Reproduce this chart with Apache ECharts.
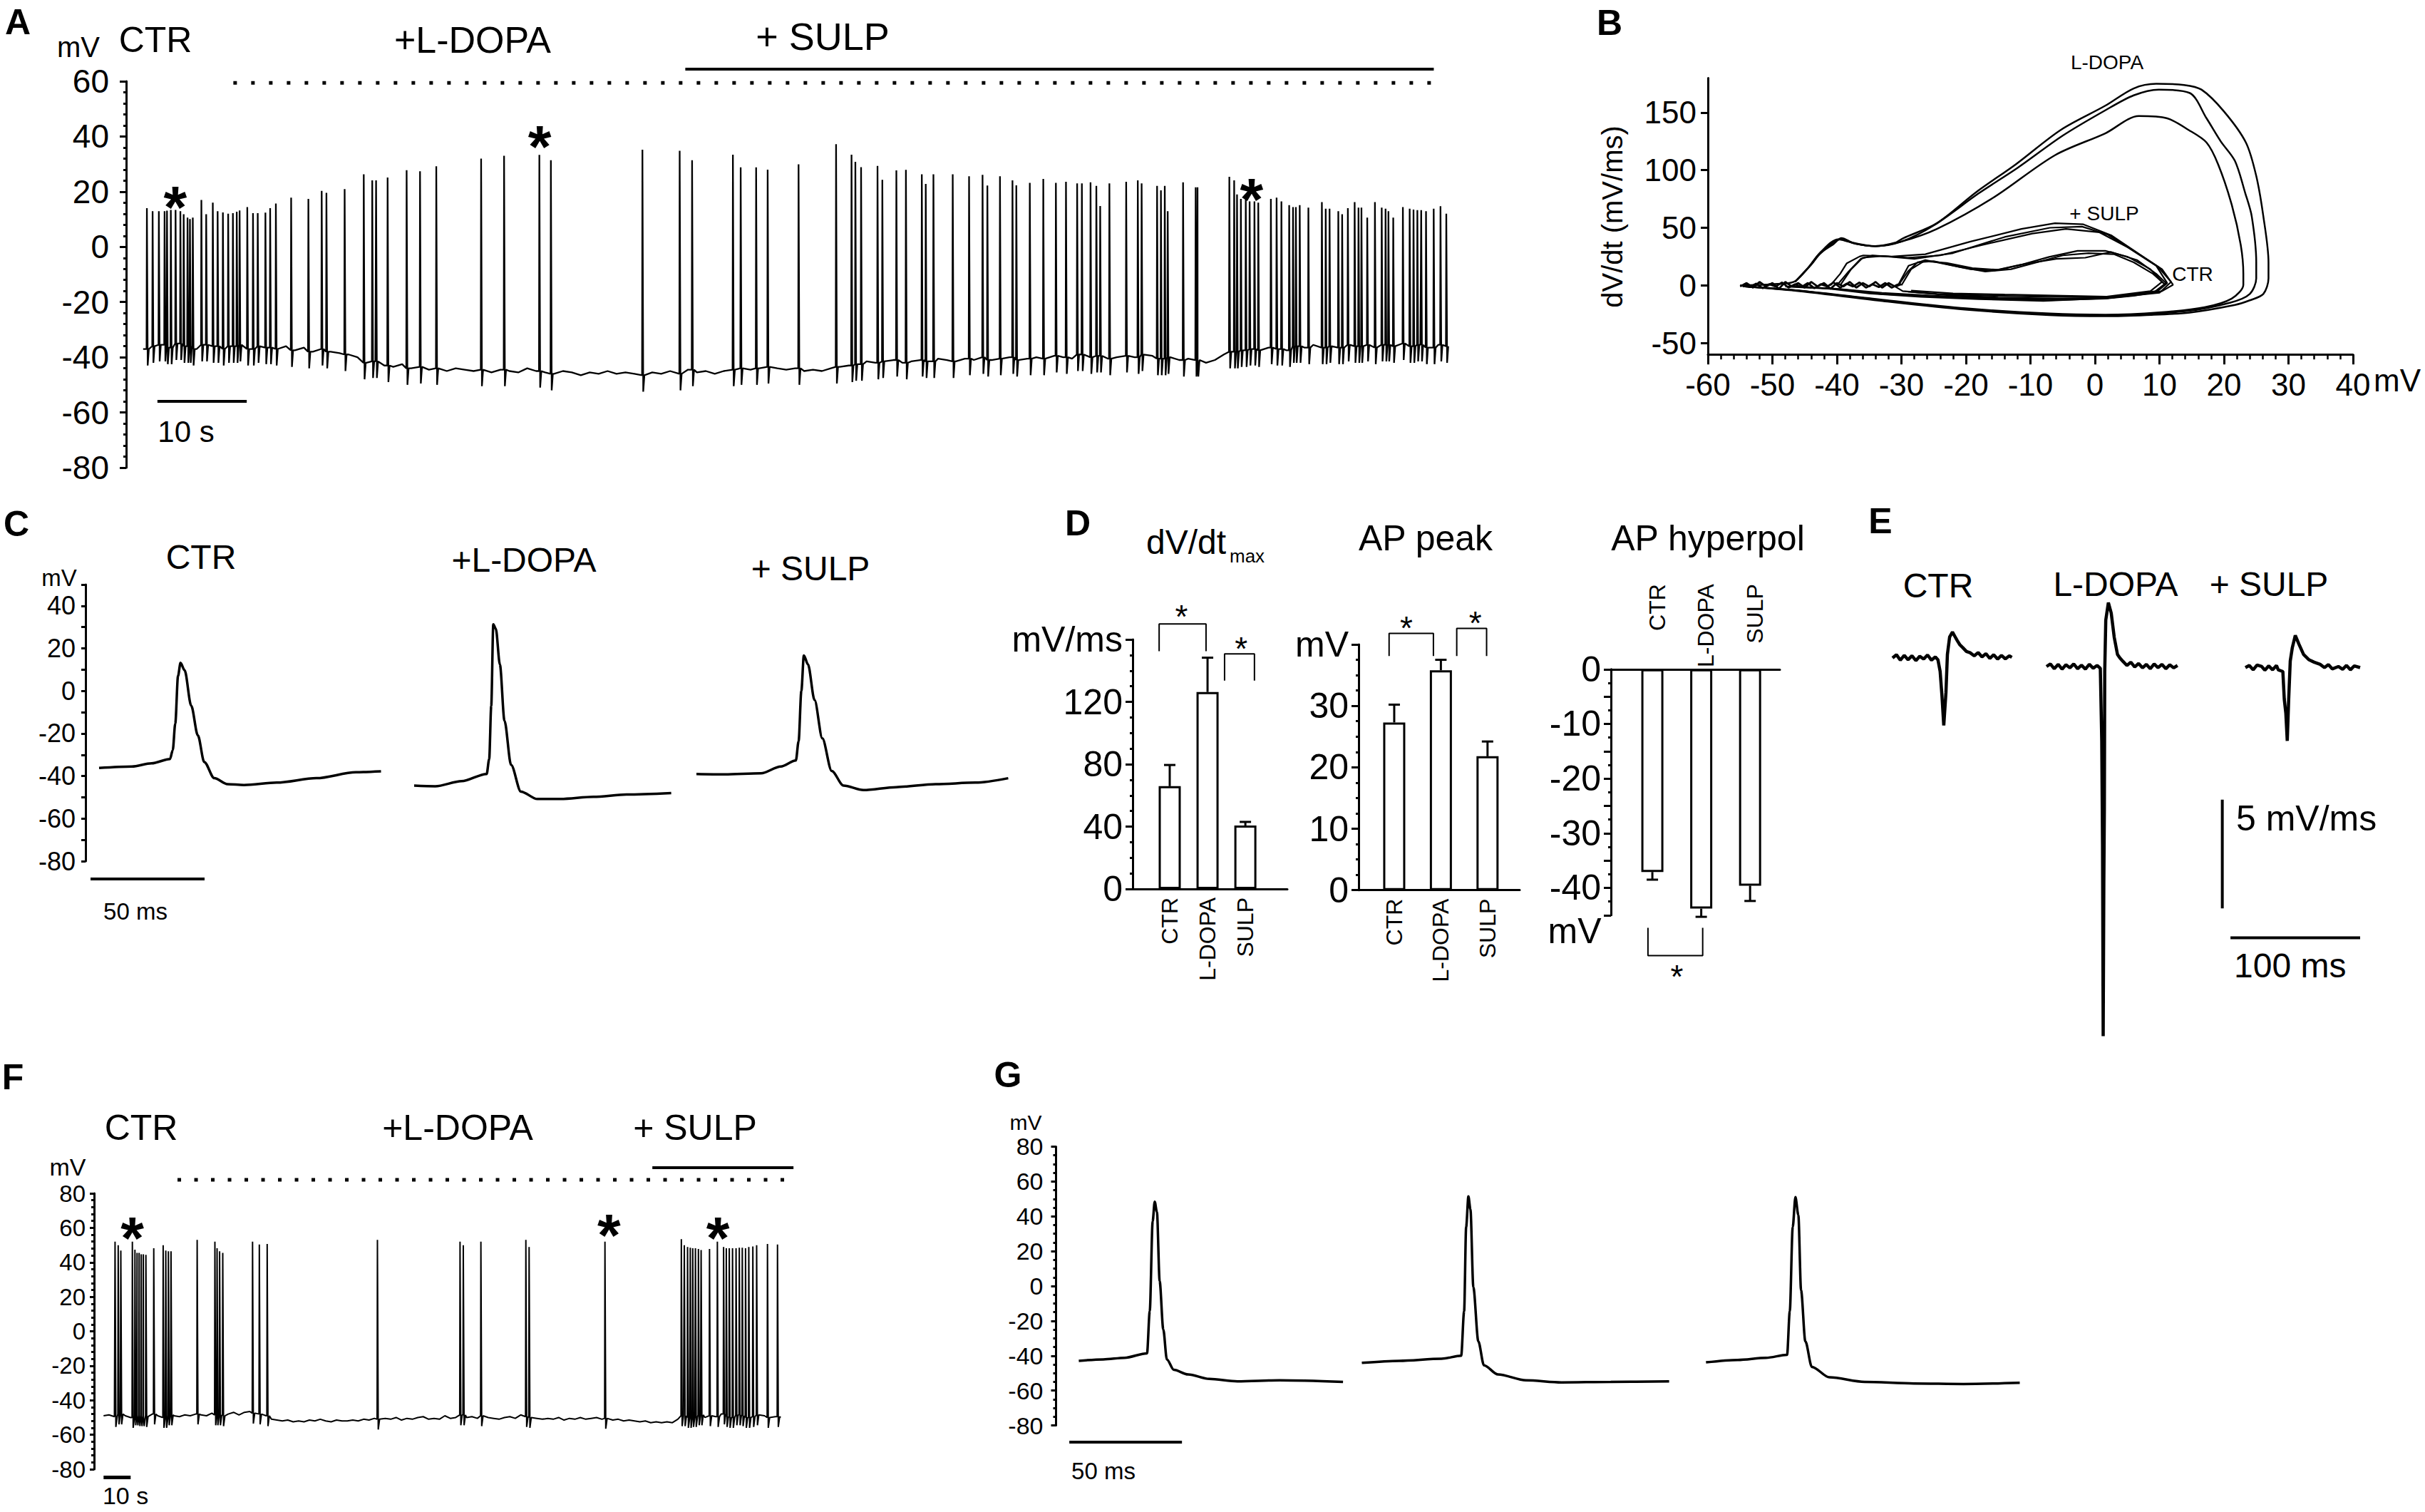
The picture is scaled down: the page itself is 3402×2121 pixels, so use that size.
<!DOCTYPE html>
<html>
<head>
<meta charset="utf-8">
<script src="https://cdn.jsdelivr.net/npm/echarts@6.0.0/dist/echarts.min.js"></script>
<style>
  html, body { margin: 0; padding: 0; background: #fff; }
  #chart { width: 3402px; height: 2121px; }
</style>
</head>
<body>
<div id="chart"></div>
<script>
var FONT = "'Liberation Sans', Arial, Helvetica, sans-serif"

// ---------- A : spontaneous firing (time in s, membrane potential in mV)
var aBaseStep = 1
var aBase = [
  -37, -36, -35.5, -36.5, -35, -36, -37, -35.5, -36, -37,
  -36, -35.5, -37, -36, -36.5, -37, -36, -37.5, -36.5, -38,
  -37, -38, -38.5, -39, -40, -42, -41.5, -43, -43.5, -42.5,
  -44, -43.5, -44.5, -44, -45, -44, -44.5, -45, -44.5, -45.5,
  -44.5, -45, -45.5, -44, -45, -45.5, -46, -45, -45.5, -46.5,
  -45.5, -46, -45, -46, -45.5, -46, -46.5, -45.5, -46, -45,
  -46, -44.5, -45.5, -45, -46, -45, -44.5, -44, -44.5, -44,
  -43.5, -44, -44.5, -44, -45, -44.5, -45, -44, -43.5, -43,
  -42.5, -41.5, -42, -41.5, -41, -42, -41.5, -41, -41.5, -40.5,
  -41, -41.5, -40.5, -41, -40, -41, -40.5, -40, -41, -40.5,
  -40, -40.5, -39.5, -40, -40.5, -39, -40, -39.5, -40.5, -40,
  -39.5, -40, -39, -39.5, -40.5, -40, -41, -40.5, -41, -42,
  -41, -39, -38, -37.5, -37, -37.5, -36.5, -37, -37.5, -36,
  -36.5, -35.5, -36.5, -36, -36.5, -35.5, -36, -35.5, -36.5, -35.5,
  -36, -35, -36, -35.5, -36.5, -35.5, -36
]
var aSpikeT = [
  0.42, 1.06, 1.76, 2.40, 2.67, 3.10, 3.63, 4.17, 4.54, 4.97, 5.24, 5.56, 6.52, 7.06, 7.80, 8.34,
  8.93, 9.52, 10.05, 10.48, 10.80, 11.66, 12.30, 12.83, 13.69, 14.22, 14.86, 16.57, 18.50, 19.99,
  20.52, 22.56, 24.70, 25.65, 26.08, 27.37, 29.50, 31.00, 32.82, 37.84, 40.41, 44.36, 45.65, 55.90,
  60.07, 61.46,
  66.03, 66.90, 68.63, 69.92, 73.38, 77.58, 79.31, 79.74, 80.38, 82.22, 82.76, 84.33, 85.40, 87.18,
  87.62, 88.48, 90.64, 92.47, 93.98, 94.52, 95.93, 97.33, 97.76, 99.27, 100.78, 102.19, 103.32,
  104.57, 105.10, 106.07, 106.72, 107.15, 108.18, 110.06, 111.36, 111.79, 113.52, 113.95, 114.38,
  114.71, 116.43, 117.84, 118.05,
  121.61, 122.15, 122.47, 122.90, 123.45, 123.88, 124.42, 124.85, 126.26, 126.90, 127.44, 128.31,
  128.74, 129.06, 129.49, 130.46, 131.97, 132.40, 132.83, 133.81, 134.24, 134.88, 135.64, 136.07,
  136.40, 137.05, 137.91, 138.67, 139.10, 139.42, 139.96, 141.04, 141.80, 142.23, 142.66, 143.09,
  143.63, 144.49, 145.25, 145.90
]
var aSpikeV = [
  14.0, 12.9, 12.9, 12.9, 13.1, 13.4, 13.4, 12.9, 11.8, 10.6, 10.1, 10.6, 17.0, 11.8, 16.0, 12.9,
  12.5, 12.0, 12.2, 12.7, 13.2, 14.4, 12.2, 12.2, 12.4, 14.0, 15.7, 17.8, 17.4, 20.3,
  19.6, 20.9, 26.3, 24.1, 24.1, 25.1, 27.8, 27.4, 29.2, 32.0, 33.0, 33.3, 31.4, 35.2,
  34.8, 31.4,
  33.4, 28.8, 28.8, 28.0, 29.9, 37.2, 33.4, 30.8, 28.9, 29.3, 24.3, 27.7, 27.9, 26.3,
  22.8, 26.3, 26.3, 25.6, 26.1, 22.2, 25.6, 24.1, 22.3, 23.2, 24.6, 23.2, 23.6,
  23.0, 23.0, 23.4, 22.1, 14.8, 23.0, 23.6, 24.1, 23.0, 22.1, 20.5, 22.1,
  12.9, 23.4, 21.6, 21.6,
  25.4, 24.1, 19.0, 17.4, 18.0, 16.5, 16.5, 16.0, 17.4, 17.8, 16.5, 15.1,
  14.4, 14.4, 15.1, 14.2, 16.2, 13.8, 13.8, 12.9, 11.8, 14.0, 16.2, 14.2,
  14.2, 10.6, 16.2, 14.2, 13.8, 12.9, 10.6, 14.4, 13.8, 13.5, 13.3, 13.3,
  12.9, 13.8, 14.7, 12.0
]
var aAhp = 6
var aStars = [[3.6, 19.0], [44.4, 40.9], [124.1, 21.8]]
var aDopaPeriod = [10.1, 144.2]
var aSulpPeriod = [60.7, 144.5]

// ---------- B : phase plots, dV/dt (mV/ms) against V (mV)
var bBase1 = [[-55, -1], [-54, 2], [-53, -2], [-52, 3], [-51, -1], [-50, 2], [-49, -3], [-48, 3], [-47, -1],
  [-46, 2], [-45, -2], [-44, 3], [-43, -1], [-42, 2], [-41, -3], [-40, 2], [-39, -1], [-38, 3], [-37, -2],
  [-36, 2], [-35, -1], [-34, 3], [-33, -2], [-32, 2], [-31, -1], [-30, 1]]
var bBase2 = [[-54.5, 1], [-53.5, -1.5], [-52.5, 1.5], [-51.5, -2.5], [-50.5, 1], [-49.5, -1], [-48.5, 2.5],
  [-47.5, -2], [-46.5, 1], [-45.5, -1.5], [-44.5, 2], [-43.5, -2.5], [-42.5, 1], [-41.5, -1], [-40.5, 2.5],
  [-39.5, -2], [-38.5, 1.5], [-37.5, -1], [-36.5, 2.5], [-35.5, -2], [-34.5, 1], [-33.5, -1.5], [-32.5, 2],
  [-31.5, -2], [-30.5, 1]]
var bLdopa1 = [[-55, 0], [-50, 1], [-46.7, 3], [-44.5, 15], [-42.8, 27], [-40.5, 36], [-39.3, 41], [-37.5, 37],
  [-34.1, 34], [-31, 37], [-29.7, 41], [-24.5, 54], [-18.4, 81], [-12.3, 105], [-5.3, 135], [1.6, 156], [6, 171],
  [9.5, 175], [13.8, 174], [16.5, 170], [20, 151], [23.4, 124], [25, 95], [26.1, 60], [26.9, 20], [26.9, 6],
  [26.1, -7.5], [24, -13], [21.7, -17], [14.7, -23.6], [8, -25.8], [1.6, -26.8], [-7.1, -25.8], [-20.2, -21],
  [-33.2, -13.4], [-46.3, -4.8], [-54.6, -0.8]]
var bLdopa2 = [[-46.5, 3], [-44, 18], [-42.5, 28], [-39.5, 40], [-37, 36], [-34, 34], [-30, 38], [-25, 52],
  [-18, 80], [-12, 102], [-5, 130], [1.6, 152], [6, 165], [9.9, 170], [14.7, 167], [17.3, 145], [19.5, 125],
  [21.7, 108], [23.3, 80], [24.3, 60], [25, 20], [25, 6], [24, -7.5], [21, -15], [14, -22.5], [1.6, -26],
  [-7, -25], [-20, -20.5], [-33, -13], [-46, -4.5], [-54.6, -0.8]]
var bLdopa3 = [[-46.5, 3], [-44, 18], [-42.5, 29], [-39.8, 40], [-37, 36], [-34, 34], [-30, 38], [-24.5, 49],
  [-15.8, 76], [-6.2, 113], [1.6, 132], [6.8, 147], [11.2, 145], [14.5, 135], [17.3, 124], [19.1, 105],
  [21.2, 70], [22.6, 35], [23, 10], [23, 0.5], [21.2, -11.5], [17, -19], [10, -23.5], [1.6, -25.5], [-7, -24.5],
  [-20, -20], [-33, -12.5], [-46, -4.5], [-54.6, -0.8]]
var bSulp1 = [[-41, 0], [-39.5, 10], [-38.5, 19], [-36.5, 25], [-35.9, 26], [-31.5, 25], [-26.3, 27], [-19.3, 38],
  [-11.4, 49], [-6.2, 54], [-1.8, 53], [2.5, 43.5], [6.9, 27], [10.4, 14], [12.1, 0.5], [10.4, -5], [6, -9],
  [1.6, -11.5], [-7.1, -13], [-15.8, -11.5], [-24.5, -10], [-33.2, -7.5], [-39.3, -3.5], [-46.3, -0.8]]
var bSulp2 = [[-40, 0], [-38.2, 12], [-36.3, 23], [-34.5, 26], [-29, 24], [-24, 26], [-17.5, 35], [-9.7, 45],
  [-4.5, 49], [0.7, 46], [5.1, 33], [9.5, 17], [11.2, 2], [9.5, -6], [2, -10.5], [-7, -12], [-16, -11],
  [-25, -9], [-33, -6.5], [-40, -3], [-47, -1]]
var bSulp3 = [[-39.5, 0], [-37.8, 14], [-36, 24], [-33, 25.5], [-28, 23], [-22, 28], [-14, 42], [-7, 50],
  [-2, 51], [2, 44], [6, 30], [9.8, 16], [11.8, 3], [10, -6.5], [2, -11], [-8, -13.5], [-18, -12], [-27, -10],
  [-35, -7], [-41, -3], [-48, -1]]
var bCtr1 = [[-31, 0], [-30.6, -0.8], [-28.9, 17], [-26.3, 22], [-22.8, 18], [-19.3, 14], [-15.8, 12.6],
  [-11.4, 18], [-7.1, 24.7], [-2.7, 30], [1.6, 30], [5.1, 24.7], [8.6, 14], [10.4, 3], [8.6, -5], [1.6, -10],
  [-7.1, -10], [-15.8, -9], [-24.5, -7.5], [-29.8, -5], [-31, -1]]
var bCtr2 = [[-30.5, 0], [-29, 12], [-27.5, 20], [-25, 21], [-21, 16], [-17, 12], [-13, 14], [-9, 20], [-5, 26],
  [-1, 28], [3, 27], [6, 20], [9, 10], [10.8, 1], [9, -6.5], [2, -11], [-6, -11.5], [-15, -10.5], [-23, -8.5],
  [-29, -5.5]]
var bCtr3 = [[-30, 0], [-28.5, 14], [-26.5, 21], [-23, 19.5], [-19, 15], [-15, 13.5], [-10.5, 19], [-6, 23],
  [-1.5, 24], [2.5, 29], [6.5, 22], [9.5, 10], [11, 2], [9.5, -5], [3, -10], [-5, -9], [-14, -8], [-22, -7],
  [-28.5, -4.5]]

// ---------- C : single action potentials (time in ms, mV)
var cCtr = [[0, -36.2], [14.4, -35.5], [23, -34], [31.1, -32], [32.3, -27.8], [33.4, -15.3], [34.6, 7], [35.7, 13.2],
  [37.5, 9.7], [40.4, -7], [43.3, -20.9], [46.1, -33.4], [50.5, -41], [56.3, -43.8], [63.5, -44.2], [77.9, -43.1],
  [95.3, -41], [112.6, -38.2], [123.6, -37.8]]
var cLdopa = [[0, -44.5], [9.25, -44.8], [20.8, -42.4], [31.8, -39], [32.9, -32], [33.8, -7], [34.7, 31.3],
  [35.8, 29.2], [37.6, 12.4], [39.6, -14], [42.5, -34.8], [46.8, -47.3], [54, -50.8], [64.2, -50.8],
  [78.6, -49.8], [93.1, -48.7], [112.7, -48]]
var cSulp = [[0, -39], [12.4, -39.2], [28.3, -38.7], [37, -35.5], [43.6, -32.7], [44.8, -23.6], [46, 0], [47.1, 16.7],
  [48.9, 12.5], [51.8, -4.3], [55.2, -22.3], [59.3, -37.6], [64.5, -44.5], [73.2, -46.6], [87.6, -45.2],
  [104.9, -43.8], [122.3, -43.1], [136.7, -41]]

// ---------- D : group means and SEM
var dCats = ['CTR', 'L-DOPA', 'SULP']
var dDvdtMean = [65.9, 126.3, 40.7]
var dDvdtSem = [13.6, 22, 2.3]
var dPeakMean = [27.3, 35.8, 21.8]
var dPeakSem = [2.9, 1.7, 2.4]
var dHypMean = [-37.1, -43.8, -39.6]
var dHypSem = [1.4, 1.5, 2.8]

// ---------- E : dV/dt traces (time in ms, mV/ms)
var eCtr = [[0, 0], [3, 0.15], [6, -0.1], [9, 0.12], [12, -0.08], [15, 0.1], [18, -0.12], [21, 0.08], [24, -0.05],
  [27, 0.14], [30, -0.1], [33, 0.05], [35, -0.08], [36.7, -0.62], [38.1, -1.73], [39.5, -3.1], [41.2, -1.58],
  [42.3, 0.16], [44, 0.96], [46.2, 1.19], [48, 1.0], [49.9, 0.8], [52, 0.6], [54.1, 0.48], [57, 0.3],
  [59.8, 0.24], [63, 0.1], [66, 0.25], [69, 0.05], [72, 0.2], [75, -0.02], [78, 0.15], [81, -0.05], [84, 0.12],
  [87, -0.04], [90, 0.1], [92, 0.03]]
var eLdopa = [[0, 0], [3, 0.12], [6, -0.1], [9, 0.1], [12, -0.12], [15, 0.08], [18, -0.06], [21, 0.12], [24, -0.1],
  [27, 0.06], [30, -0.12], [33, 0.1], [36, -0.08], [39, 0.05], [41.5, -0.08], [42.6, -3.42], [43.2, -8.19],
  [43.7, -17.0], [44.2, -10], [44.6, -6.6], [44.9, -0.24], [45.7, 2.14], [47.7, 2.94], [49.9, 2.46], [52.2, 1.35],
  [54.7, 0.56], [56.5, 0.4], [58.9, 0.24], [62, 0.05], [65, 0.2], [68, -0.02], [71, 0.14], [74, -0.06], [77, 0.1],
  [80, -0.1], [83, 0.12], [86, -0.05], [89, 0.1], [92, -0.1], [95, 0.08], [98, -0.06], [101, 0.05]]
var eSulp = [[0, 0], [3, 0.1], [6, -0.1], [9, 0.12], [12.6, 0.05], [15, -0.12], [18, 0.08], [21, -0.1], [24, 0.1],
  [25.3, -0.1], [28.9, -0.18], [30, -1.46], [31.2, -2.1], [32.3, -3.37], [33.4, -1.46], [34.6, 0.3], [36.2, 0.92],
  [38.5, 1.48], [41.3, 1.08], [44.9, 0.6], [49.1, 0.36], [53, 0.25], [57.6, 0.15], [61, 0.0], [64, 0.14],
  [67, -0.06], [71.7, 0.05], [75, -0.08], [78, 0.1], [81, -0.1], [84, 0.08], [88.5, 0]]

// ---------- F : second neuron, long recording (time in s, mV)
var fBaseStep = 2
var fBase = [
  -49, -48.5, -49.5, -48, -49, -50, -48.5, -49, -49.5, -48, -49, -50, -48.5,
  -49, -49.5, -48.5, -49, -48, -48.5, -49, -47.5, -48.5, -49, -48, -47, -48.5, -47, -46.5, -47.5, -48, -49,
  -51, -51.5, -52, -51.5, -52.5, -52, -52.5, -51.5, -52, -51, -52, -52.5, -51.5, -52, -52, -51.5, -52, -51, -51.5, -50.5,
  -51, -50.5, -51, -50, -51.5, -50.5, -51, -50, -49.5, -51, -50.5, -51, -49, -50.5, -50,
  -48.5, -50, -49.5, -50.5, -49, -50, -50.5, -51, -50, -49.5, -50.5, -48.5, -49.5, -50, -50.5,
  -51, -50.5, -51, -50, -51.5, -50.5, -51, -50, -51, -50.5, -50, -51, -50.5, -51.5, -51, -52, -51.5, -52, -52.5, -52,
  -53, -52.5, -53, -52.5, -53, -51,
  -49, -50, -49.5, -48.5, -50, -49, -49.5, -48, -49.5, -50, -48.5, -49, -50, -49.5, -48.5, -49, -50, -49.5, -50
]
var fSpikeT = [
  4.24, 5.4, 6.37, 10.63, 11.58, 12.37, 13.13, 13.9, 14.68, 15.63, 18.53, 22, 22.97, 23.94, 24.9, 34.55,
  41.1, 41.9, 42.84, 44, 55, 57.5, 60.4, 101.1, 131.6, 132.8, 139.3, 155.9, 157.1, 185.1, 213.3, 214.4,
  215.6, 216.6, 217.5, 218.5, 219.6, 220.6, 223.7, 226.6, 228.9, 229.9, 231, 232.2, 233.5, 234.7, 235.8,
  237, 238.2, 239.7, 241.1, 245.1, 248.8
]
var fSpikeV = [
  52, 49.9, 46.8, 52, 47.3, 45.5, 45.5, 44.7, 44.7, 44.3, 48.2, 49.9, 46.8, 46.4, 46.4, 53,
  52, 48.2, 46.4, 45.5, 52, 50.3, 50.6, 53, 52, 49.9, 52, 53, 48.9, 52, 53.4, 49.9,
  48.9, 48.5, 48.2, 48.2, 47.8, 47.1, 47.8, 52, 48.9, 48.2, 48.2, 48.2, 48.2, 48.5, 48.5,
  48.2, 48.9, 49.2, 49.9, 50.6, 50.3
]
var fAhp = 6
var fStars = [[10.6, 61.2], [186.6, 63], [226.8, 61.2]]
var fDopaPeriod = [27.3, 251.3]
var fSulpPeriod = [202.6, 254.7]

// ---------- G : single action potentials of the second neuron (ms, mV)
var gCtr = [[0.1, -42.9], [11, -42.1], [20.4, -41.2], [30.4, -38.6], [31.6, -14.5], [32.9, 37.2], [33.8, 48.4],
  [34.8, 42.4], [36, 2.8], [37.6, -24.8], [39.2, -42.1], [42.3, -48.1], [48.6, -50.7], [58, -53.3], [70.5, -54.7],
  [89.2, -54.1], [117.4, -55]]
var gLdopa = [[0, -44.1], [16.6, -42.9], [35.4, -41.7], [44.1, -40], [45.4, -14.5], [46.3, 33.8], [47.3, 51.4],
  [48.2, 44.1], [49.5, -0.7], [51.7, -31.7], [54.2, -45.5], [60.4, -50.7], [72.9, -54.1], [88.6, -55.3],
  [110.5, -55], [136.4, -54.7]]
var gSulp = [[0.1, -43.8], [14.2, -42.4], [26.7, -41.2], [36.1, -39.5], [37.3, -14.5], [38.6, 33.8], [39.8, 51],
  [41.1, 40.7], [42.3, -2.4], [44.2, -31.7], [47.1, -46.4], [54.9, -52.4], [70.5, -55], [92.4, -55.9],
  [114.4, -56.2], [139.4, -55.5]]

// baseline samples + spikes -> one sweep (w = [pre, trough, recover] offsets)
function buildTrace (step, base, spT, spV, ahp, w) {
  var pts = []
  base.forEach(function (v, i) {
    var t = i * step
    var near = spT.some(function (s) { return t > s - 2 * w[0] && t < s + w[2] + w[0] })
    if (!near) pts.push([t, v])
  })
  spT.forEach(function (s, k) {
    var b = base[Math.min(base.length - 1, Math.round(s / step))]
    pts.push([s - w[0], b], [s, spV[k]], [s + w[1], b - ahp], [s + w[2], b])
  })
  pts.sort(function (p, q) { return p[0] - q[0] })
  return pts
}

var BLACK = '#000'

function line (gi, data, width, extra) {
  return Object.assign({
    type: 'line', xAxisIndex: gi, yAxisIndex: gi, data: data, symbol: 'none', silent: true,
    lineStyle: { color: BLACK, width: width }, animation: false
  }, extra || {})
}

function hidX (gi, min, max) {
  return { type: 'value', gridIndex: gi, min: min, max: max, show: false }
}

function hidY (gi, min, max) {
  return { type: 'value', gridIndex: gi, min: min, max: max, show: false }
}

function visY (gi, min, max, interval, fs, margin, tickLen, minor, extra) {
  return Object.assign({
    type: 'value', gridIndex: gi, min: min, max: max, interval: interval,
    splitLine: { show: false },
    axisLine: { show: true, onZero: false, lineStyle: { color: BLACK, width: 3 } },
    axisTick: { show: true, length: tickLen, lineStyle: { color: BLACK, width: 3 } },
    minorTick: { show: minor > 0, splitNumber: minor || 2, length: 4, lineStyle: { color: BLACK, width: 3 } },
    minorSplitLine: { show: false },
    axisLabel: { color: BLACK, fontSize: fs, fontFamily: FONT, margin: margin }
  }, extra || {})
}

// text-only scatter (asterisks, labels); the 1px white dot is invisible on the white page
function labelPts (gi, pts, label) {
  return {
    type: 'scatter', xAxisIndex: gi, yAxisIndex: gi, data: pts, symbol: 'circle', symbolSize: 1,
    clip: false, silent: true, z: 6, animation: false,
    itemStyle: { color: '#fff', opacity: 1 },
    label: Object.assign({ show: true, position: 'inside', color: BLACK, fontFamily: FONT }, label)
  }
}

function stars (gi, pts, fs, bold, dy) {
  return labelPts(gi, pts, { formatter: '*', fontSize: fs, fontWeight: bold ? 'bold' : 'normal', offset: [0, dy] })
}

function bars (gi, mean) {
  return {
    type: 'bar', xAxisIndex: gi, yAxisIndex: gi, barWidth: 31, silent: true, animation: false,
    data: mean.map(function (v, i) { return [i + 1, v] }),
    itemStyle: { color: '#fff', borderColor: BLACK, borderWidth: 3 }
  }
}

function errBars (gi, mean, sem) {
  return {
    type: 'custom', xAxisIndex: gi, yAxisIndex: gi, clip: false, silent: true, z: 5, animation: false,
    data: mean.map(function (v, i) { return [i + 1, v, v < 0 ? -sem[i] : sem[i]] }),
    renderItem: function (params, api) {
      var p0 = api.coord([api.value(0), api.value(1)])
      var p1 = api.coord([api.value(0), api.value(1) + api.value(2)])
      var st = { stroke: BLACK, lineWidth: 3 }
      return { type: 'group', children: [
        { type: 'line', shape: { x1: p0[0], y1: p0[1], x2: p1[0], y2: p1[1] }, style: st },
        { type: 'line', shape: { x1: p1[0] - 8, y1: p1[1], x2: p1[0] + 8, y2: p1[1] }, style: st }
      ] }
    }
  }
}

function bracket (gi, x1, x2, yLeg, yTop) {
  return line(gi, [[x1, yLeg], [x1, yTop], [x2, yTop], [x2, yLeg]], 2, { clip: false })
}

function catAxis (gi, min, max, extra) {
  return Object.assign({
    type: 'value', gridIndex: gi, min: min, max: max,
    splitLine: { show: false },
    axisLine: { show: true, onZero: false, lineStyle: { color: BLACK, width: 3 } },
    axisTick: { show: false },
    axisLabel: { show: true, customValues: [1, 2, 3], rotate: 90, margin: 12, color: BLACK, fontSize: 32,
      fontFamily: FONT, formatter: function (v) { return dCats[Math.round(v) - 1] } }
  }, extra || {})
}

function txt (x, y, s, fs, opt) {
  opt = opt || {}
  var al = opt.align || 'center'
  var el = {
    type: 'text', x: x, y: y, silent: true,
    style: { text: s, fontSize: fs, fontFamily: FONT, fontWeight: opt.bold ? 'bold' : 'normal', fill: BLACK,
      align: al, textAlign: al, verticalAlign: 'middle', textVerticalAlign: 'middle' }
  }
  if (opt.rotation) el.rotation = opt.rotation
  return el
}

var aTrace = buildTrace(aBaseStep, aBase, aSpikeT, aSpikeV, aAhp, [0.04, 0.09, 0.22])
var fTrace = buildTrace(fBaseStep, fBase, fSpikeT, fSpikeV, fAhp, [0.12, 0.3, 0.8])

var grids = [
  { left: 177, top: 114, width: 1857, height: 542 },        // 0 A
  { left: 2396, top: 109.5, width: 905, height: 387.7 },    // 1 B
  { left: 120, top: 820, width: 416, height: 388 },         // 2 C ctr
  { left: 581, top: 820, width: 361.6, height: 388 },       // 3 C l-dopa
  { left: 977, top: 820, width: 438.4, height: 388 },       // 4 C sulp
  { left: 1589, top: 897, width: 217, height: 350 },        // 5 D dV/dt
  { left: 1906, top: 904, width: 226, height: 344.7 },      // 6 D peak
  { left: 2260, top: 938.8, width: 237, height: 345 },      // 7 D hyperpol
  { left: 2655, top: 801, width: 167.6, height: 671 },      // 8 E ctr
  { left: 2871, top: 813, width: 183.8, height: 671 },      // 9 E l-dopa
  { left: 3110, top: 814.5, width: 201, height: 671 },      // 10 E sulp (+ scale bars)
  { left: 132, top: 1674, width: 982.3, height: 387 },      // 11 F
  { left: 1481.5, top: 1608.4, width: 404.5, height: 391.2 }, // 12 G ctr
  { left: 1910.5, top: 1608.4, width: 433, height: 391.2 },   // 13 G l-dopa
  { left: 2393, top: 1608.4, width: 442.4, height: 391.2 }    // 14 G sulp
].map(function (g) { return Object.assign({ outerBoundsMode: 'none', containLabel: false }, g) })

var xAxes = [
  hidX(0, -1.9, 146.3),
  {
    type: 'value', gridIndex: 1, min: -60, max: 40, interval: 10,
    splitLine: { show: false },
    axisLine: { show: true, onZero: false, lineStyle: { color: BLACK, width: 3 } },
    axisTick: { show: true, length: 14, lineStyle: { color: BLACK, width: 3 } },
    minorTick: { show: true, splitNumber: 5, length: 7, lineStyle: { color: BLACK, width: 2.5 } },
    axisLabel: { color: BLACK, fontSize: 44, fontFamily: FONT, margin: 20 }
  },
  hidX(2, -5.94, 124.06),
  hidX(3, 0, 113),
  hidX(4, 0, 137),
  catAxis(5, 0.02, 4.11),
  catAxis(6, 0.237, 3.69),
  catAxis(7, 0.153, 3.61, { position: 'top', axisLabel: { show: false } }),
  hidX(8, 0, 92.1),
  hidX(9, 0, 101),
  hidX(10, -22, 88.5),
  hidX(11, -3.5, 255),
  hidX(12, -10, 118),
  hidX(13, 0, 137),
  hidX(14, 0, 140)
]

var yAxes = [
  visY(0, -80, 60, 20, 46, 24, 9, 5),
  visY(1, -60, 180, 10, 44, 16, 10, 0, {
    axisTick: { show: true, length: 10, customValues: [-50, 0, 50, 100, 150], lineStyle: { color: BLACK, width: 3 } },
    axisLabel: { color: BLACK, fontSize: 44, fontFamily: FONT, margin: 16, customValues: [-50, 0, 50, 100, 150] }
  }),
  visY(2, -80, 50, 10, 36, 14, 6, 0, {
    axisLabel: { color: BLACK, fontSize: 36, fontFamily: FONT, margin: 14, customValues: [-80, -60, -40, -20, 0, 20, 40] }
  }),
  hidY(3, -80, 50),
  hidY(4, -80, 50),
  visY(5, 0, 160, 40, 50, 14, 10, 4, {
    axisLabel: { color: BLACK, fontSize: 50, fontFamily: FONT, margin: 14,
      formatter: function (v) { return v === 160 ? 'mV/ms' : v } }
  }),
  visY(6, 0, 40, 10, 50, 14, 10, 4, {
    axisLabel: { color: BLACK, fontSize: 50, fontFamily: FONT, margin: 14,
      formatter: function (v) { return v === 40 ? 'mV' : v } }
  }),
  visY(7, -45, 0, 5, 50, 14, 10, 2, {
    axisLabel: { color: BLACK, fontSize: 50, fontFamily: FONT, margin: 14,
      formatter: function (v) { return v % 10 === 0 ? v : '' } }
  }),
  hidY(8, -18, 4),
  hidY(9, -18, 4),
  hidY(10, -18, 4),
  visY(11, -80, 80, 20, 33, 12, 6, 5),
  visY(12, -80, 80, 20, 34, 18, 7, 4),
  hidY(13, -80, 80),
  hidY(14, -80, 80)
]

var series = [
  // A
  line(0, aTrace, 2.3),
  line(0, [[aDopaPeriod[0], 59.4], [aDopaPeriod[1], 59.4]], 5, { clip: false, lineStyle: { color: BLACK, width: 5, type: [5, 20] } }),
  line(0, [[aSulpPeriod[0], 64.4], [aSulpPeriod[1], 64.4]], 4, { clip: false }),
  line(0, [[1.6, -56], [11.6, -56]], 4, { clip: false }),
  stars(0, aStars, 84, true, 18),
  // B
  line(1, bBase1, 2.8), line(1, bBase2, 2.8),
  line(1, bLdopa1, 2.5, { smooth: 0.3 }), line(1, bLdopa2, 2.5, { smooth: 0.3 }), line(1, bLdopa3, 2.5, { smooth: 0.3 }),
  line(1, bSulp1, 2.2), line(1, bSulp2, 2.2), line(1, bSulp3, 2.2),
  line(1, bCtr1, 2.2), line(1, bCtr2, 2.2), line(1, bCtr3, 2.2),
  // C
  line(2, cCtr, 3.5, { smooth: 0.3, smoothMonotone: 'x' }),
  line(3, cLdopa, 3.5, { smooth: 0.3, smoothMonotone: 'x' }),
  line(4, cSulp, 3.5, { smooth: 0.3, smoothMonotone: 'x' }),
  line(2, [[-3.75, -88.4], [46.25, -88.4]], 4, { clip: false }),
  // D
  bars(5, dDvdtMean), errBars(5, dDvdtMean, dDvdtSem),
  bracket(5, 0.72, 1.96, 152.5, 170), bracket(5, 2.45, 3.24, 133.6, 150.8),
  stars(5, [[1.31, 178.7], [2.89, 158]], 46, false, 9),
  bars(6, dPeakMean), errBars(6, dPeakMean, dPeakSem),
  bracket(6, 0.89, 1.84, 38.1, 41.8), bracket(6, 2.34, 2.98, 38.1, 42.6),
  stars(6, [[1.26, 43.7], [2.74, 44.5]], 46, false, 9),
  bars(7, dHypMean), errBars(7, dHypMean, dHypSem),
  bracket(7, 0.91, 2.03, -47.3, -52.4),
  stars(7, [[1.5, -55.1]], 46, false, 9),
  labelPts(7, dCats.map(function (c, i) { return [i + 1.1, 15.6] }), {
    rotate: 90, align: 'right', fontSize: 32, formatter: function (p) { return dCats[p.dataIndex] }
  }),
  // E
  line(8, eCtr, 4.5),
  line(9, eLdopa, 4.5),
  line(10, eSulp, 4.5),
  line(10, [[-17.8, -6.07], [-17.8, -11.07]], 4, { clip: false }),
  line(10, [[-11.5, -12.43], [88.5, -12.43]], 4, { clip: false }),
  // F
  line(11, fTrace, 2),
  line(11, [[fDopaPeriod[0], 87.9], [fDopaPeriod[1], 87.9]], 5, { clip: false, lineStyle: { color: BLACK, width: 5, type: [5, 18.5] } }),
  line(11, [[fSulpPeriod[0], 94.9], [fSulpPeriod[1], 94.9]], 4, { clip: false }),
  line(11, [[0, -84.8], [10, -84.8]], 5, { clip: false }),
  stars(11, fStars, 84, true, 18),
  // G
  line(12, gCtr, 3.5, { smooth: 0.3, smoothMonotone: 'x' }),
  line(13, gLdopa, 3.5, { smooth: 0.3, smoothMonotone: 'x' }),
  line(14, gSulp, 3.5, { smooth: 0.3, smoothMonotone: 'x' }),
  line(12, [[-4.1, -89.6], [45.9, -89.6]], 4, { clip: false })
]

var texts = [
  // A
  txt(25, 31, 'A', 50, { bold: true }),
  txt(110, 66, 'mV', 40),
  txt(218, 56, 'CTR', 50),
  txt(663, 56, '+L-DOPA', 52),
  txt(1154, 51, '+ SULP', 54),
  txt(261, 605, '10 s', 42),
  // B
  txt(2258, 32, 'B', 50, { bold: true }),
  txt(2956, 87, 'L-DOPA', 28),
  txt(2952, 299, '+ SULP', 28),
  txt(3076, 384, 'CTR', 28),
  txt(2262, 304, 'dV/dt (mV/ms)', 40, { rotation: Math.PI / 2 }),
  txt(3330, 533, 'mV', 44, { align: 'left' }),
  // C
  txt(23, 735, 'C', 50, { bold: true }),
  txt(83, 810, 'mV', 33),
  txt(282, 781, 'CTR', 48),
  txt(735, 785, '+L-DOPA', 48),
  txt(1137, 797, '+ SULP', 48),
  txt(190, 1278, '50 ms', 33),
  // D
  txt(1512, 734, 'D', 50, { bold: true }),
  txt(1664, 760, 'dV/dt', 48),
  txt(1725, 780, 'max', 26, { align: 'left' }),
  txt(2000, 755, 'AP peak', 50),
  txt(2396, 755, 'AP hyperpol', 50),
  txt(2209, 1306, 'mV', 50),
  // E
  txt(2638, 731, 'E', 50, { bold: true }),
  txt(2719, 821, 'CTR', 48),
  txt(2968, 819, 'L-DOPA', 48),
  txt(3183, 819, '+ SULP', 48),
  txt(3137, 1148, '5 mV/ms', 50, { align: 'left' }),
  txt(3134, 1354, '100 ms', 48, { align: 'left' }),
  // F
  txt(18, 1511, 'F', 50, { bold: true }),
  txt(198, 1582, 'CTR', 50),
  txt(642, 1582, '+L-DOPA', 50),
  txt(975, 1582, '+ SULP', 50),
  txt(95, 1637, 'mV', 34),
  txt(176, 2098, '10 s', 34),
  // G
  txt(1414, 1508, 'G', 50, { bold: true }),
  txt(1439, 1574, 'mV', 30),
  txt(1548, 2063, '50 ms', 33)
]

var chart = echarts.init(document.getElementById('chart'), null, { renderer: 'svg' })
chart.setOption({
  animation: false,
  backgroundColor: '#fff',
  textStyle: { fontFamily: FONT },
  grid: grids,
  xAxis: xAxes,
  yAxis: yAxes,
  series: series,
  graphic: { elements: texts }
})
</script>
</body>
</html>
